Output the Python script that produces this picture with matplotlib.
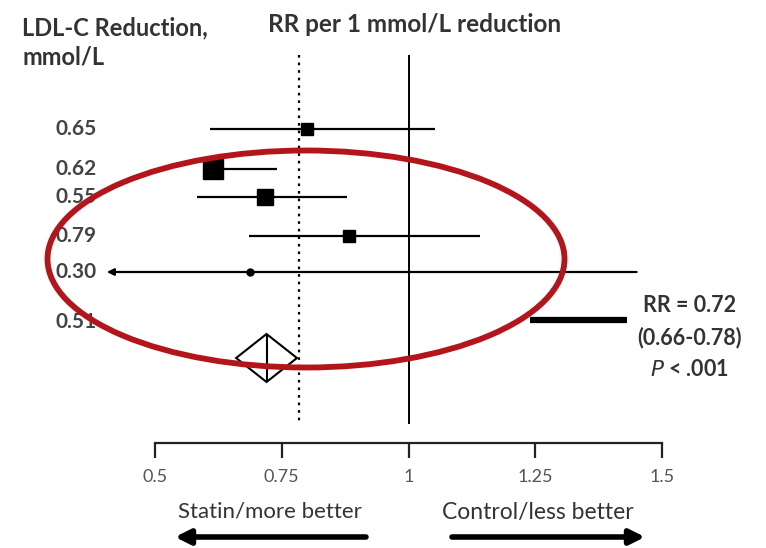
import matplotlib.pyplot as plt
from matplotlib.patches import Ellipse, Polygon

# per-trial LDL-C reduction and RR per 1 mmol/L (95% CI)
ldl_labels = ["0.65", "0.62", "0.55", "0.79", "0.30", "0.51"]
rr = [0.80, 0.615, 0.717, 0.883, 0.687]
rr_lo = [0.608, 0.60, 0.583, 0.686, 0.405]
rr_hi = [1.052, 0.74, 0.879, 1.141, 1.45]
bar_051 = [1.24, 1.43]

pooled_rr, pooled_lo, pooled_hi = 0.72, 0.66, 0.78
ref_dotted = 0.785
ticks = [0.5, 0.75, 1, 1.25, 1.5]
tick_labels = ["0.5", "0.75", "1", "1.25", "1.5"]

W, H = 766, 548
row_y = [129, 169, 197, 236, 272, 320]
msize = [9, 14, 12, 9, 5]
txt = "#333333"
plt.rcParams['font.family'] = ['Lato', 'DejaVu Sans']

fig = plt.figure(figsize=(W / 100, H / 100), dpi=100)
ax = fig.add_axes([0, 105 / H, 1, 1 - 105 / H])
ax.set_xlim(0.5 - 155 / 507, 0.5 + (W - 155) / 507)
ax.set_ylim(443, 0)

for s in ["top", "right", "left"]:
    ax.spines[s].set_visible(False)
ax.spines["bottom"].set_bounds(0.5, 1.5)
ax.spines["bottom"].set_linewidth(1.6)
ax.spines["bottom"].set_color("#222222")
ax.set_yticks([])
ax.set_xticks(ticks)
ax.set_xticklabels(tick_labels)
ax.tick_params(axis="x", direction="out", length=11, width=1.6, color="#222222",
               pad=8, labelsize=13, labelcolor="#555555")

# reference lines
ax.vlines(1.0, 55, 424, color="black", lw=1.4)
ax.vlines(ref_dotted, 55, 422, color="black", lw=1.6, linestyles=(0, (1.2, 2.2)))

# trial estimates
for i in range(len(rr)):
    y = row_y[i]
    if i == 4:
        ax.annotate("", xy=(rr_lo[i], y), xytext=(rr_hi[i], y),
                    arrowprops=dict(arrowstyle="-|>", color="black", lw=1.6,
                                    mutation_scale=10, shrinkA=0, shrinkB=0))
    else:
        ax.hlines(y, rr_lo[i], rr_hi[i], color="black", lw=1.6)
    mk = "o" if i == 4 else "s"
    ax.plot(rr[i], y, marker=mk, ms=msize[i], color="black", mec="black")

ax.hlines(row_y[5], bar_051[0], bar_051[1], color="black", lw=4.5)

# pooled diamond
cy, hh = 358, 24
ax.add_patch(Polygon([(pooled_lo, cy), (pooled_rr, cy - hh), (pooled_hi, cy), (pooled_rr, cy + hh)],
                     closed=True, fill=False, ec="black", lw=1.5))
ax.vlines(pooled_rr, cy - hh, cy + hh, color="black", lw=1.5)

# row labels sit under the red ring
label_x = 0.5 + (55 - 155) / 507
for lab, y in zip(ldl_labels, row_y[:5] + [322]):
    ax.text(label_x, y, lab, fontsize=15, fontweight="bold", va="center",
            color="#444444", zorder=3)

# red highlight ring
ax.add_patch(Ellipse((0.5 + (306 - 155) / 507, 259), 517 / 507, 217,
                     fill=False, ec="#b3151b", lw=4.2, zorder=5))

# text
def ftext(x, y, s, **kw):
    fig.text(x / W, 1 - y / H, s, color=kw.pop("color", txt), **kw)

ftext(22, 28, "LDL-C Reduction,", fontsize=17, fontweight="bold", va="center")
ftext(22, 57, "mmol/L", fontsize=17, fontweight="bold", va="center")
ftext(415, 24, "RR per 1 mmol/L reduction", fontsize=17.5, fontweight="bold", va="center", ha="center")

ftext(690, 305, "RR = 0.72", fontsize=15.5, fontweight="bold", va="center", ha="center")
ftext(690, 338, "(0.66-0.78)", fontsize=15.5, fontweight="bold", va="center", ha="center")
ftext(690, 370, r"$\mathit{P}$ < .001", fontsize=15.5, fontweight="bold", va="center", ha="center")

ftext(270, 512, "Statin/more better", fontsize=16, va="center", ha="center")
ftext(538, 512, "Control/less better", fontsize=16.5, va="center", ha="center")
for tail, head in [(366, 175), (452, 645)]:
    ax.annotate("", xy=(head, H - 537), xytext=(tail, H - 537),
                xycoords="figure pixels", textcoords="figure pixels",
                arrowprops=dict(arrowstyle="-|>", color="black", lw=4,
                                mutation_scale=22, shrinkA=0, shrinkB=0))

fig.savefig("out.png", dpi=100, facecolor="white")
